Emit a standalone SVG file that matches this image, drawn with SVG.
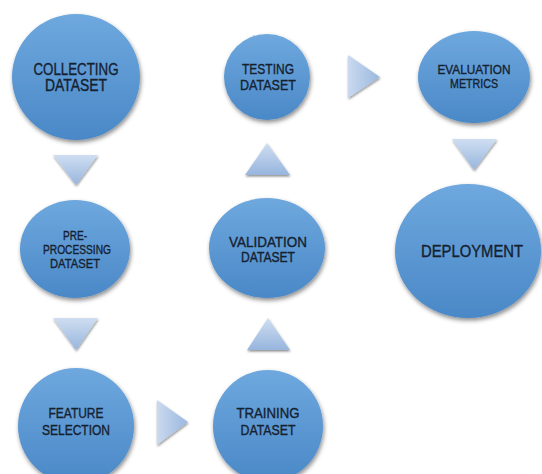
<svg xmlns="http://www.w3.org/2000/svg" width="542" height="474" viewBox="0 0 542 474">
<defs>
<linearGradient id="gNode" x1="0" y1="0" x2="0" y2="1">
<stop offset="0" stop-color="#6ea8de"/>
<stop offset="1" stop-color="#4a88c7"/>
</linearGradient>
<linearGradient id="gArrow" x1="0" y1="0" x2="0" y2="1">
<stop offset="0" stop-color="#cfdef1"/>
<stop offset="1" stop-color="#97b5de"/>
</linearGradient>
<linearGradient id="gArrowH" x1="0" y1="0" x2="1" y2="0">
<stop offset="0" stop-color="#cad9ef"/>
<stop offset="1" stop-color="#9ab8df"/>
</linearGradient>
<filter id="sh" x="-20%" y="-20%" width="140%" height="140%">
<feDropShadow dx="1" dy="2.5" stdDeviation="2" flood-color="#000" flood-opacity="0.45"/>
</filter>
<filter id="shA" x="-30%" y="-30%" width="160%" height="160%">
<feDropShadow dx="0.5" dy="1.5" stdDeviation="1.2" flood-color="#000" flood-opacity="0.45"/>
</filter>
</defs>
<style>
.node{fill:url(#gNode);filter:url(#sh);}
.arr{fill:url(#gArrow);filter:url(#shA);}
.arrh{fill:url(#gArrowH);filter:url(#shA);}
text{font-family:"Liberation Sans",Arial,sans-serif;fill:#15212f;stroke:#15212f;stroke-width:0.35;text-anchor:middle;}
</style>
<rect width="542" height="474" fill="#ffffff"/>
<g id="connectors">
<polygon class="arr" points="53,155 98,155 76,185"/>
<polygon class="arr" points="53,318 98,318 76,350"/>
<polygon class="arrh" points="157,400 157,445 188,422"/>
<polygon class="arr" points="247,350 290,350 268,318"/>
<polygon class="arr" points="245,175 290,175 267,143"/>
<polygon class="arrh" points="348,55 348,98 380,77"/>
<polygon class="arr" points="452,139 497,139 474,170"/>
</g>
<g id="collecting">
<ellipse class="node" cx="76" cy="77" rx="64" ry="63"/>
<text x="76" y="75" font-size="16" textLength="85" lengthAdjust="spacingAndGlyphs">COLLECTING</text>
<text x="76" y="91" font-size="16" textLength="62" lengthAdjust="spacingAndGlyphs">DATASET</text>
</g>
<g id="testing">
<ellipse class="node" cx="267" cy="77" rx="43" ry="43"/>
<text x="268" y="74" font-size="15" textLength="52" lengthAdjust="spacingAndGlyphs">TESTING</text>
<text x="268" y="90" font-size="15" textLength="56" lengthAdjust="spacingAndGlyphs">DATASET</text>
</g>
<g id="evaluation">
<ellipse class="node" cx="474" cy="77" rx="56" ry="46"/>
<text x="474" y="74" font-size="13.5" textLength="73" lengthAdjust="spacingAndGlyphs">EVALUATION</text>
<text x="474" y="88" font-size="13.5" textLength="48" lengthAdjust="spacingAndGlyphs">METRICS</text>
</g>
<g id="preprocessing">
<ellipse class="node" cx="75" cy="249" rx="55" ry="49"/>
<text x="75" y="240" font-size="13" textLength="24" lengthAdjust="spacingAndGlyphs">PRE-</text>
<text x="77" y="254" font-size="13" textLength="68" lengthAdjust="spacingAndGlyphs">PROCESSING</text>
<text x="75" y="268" font-size="13" textLength="50" lengthAdjust="spacingAndGlyphs">DATASET</text>
</g>
<g id="validation">
<ellipse class="node" cx="267" cy="248" rx="58" ry="50"/>
<text x="268" y="247" font-size="14" textLength="78" lengthAdjust="spacingAndGlyphs">VALIDATION</text>
<text x="268" y="262" font-size="14" textLength="54" lengthAdjust="spacingAndGlyphs">DATASET</text>
</g>
<g id="deployment">
<ellipse class="node" cx="468" cy="251" rx="73" ry="67"/>
<text x="472" y="257" font-size="16" textLength="102" lengthAdjust="spacingAndGlyphs">DEPLOYMENT</text>
</g>
<g id="feature">
<ellipse class="node" cx="76" cy="426" rx="58" ry="58"/>
<text x="76" y="418" font-size="14.5" textLength="55" lengthAdjust="spacingAndGlyphs">FEATURE</text>
<text x="76" y="435" font-size="14.5" textLength="68" lengthAdjust="spacingAndGlyphs">SELECTION</text>
</g>
<g id="training">
<ellipse class="node" cx="268" cy="426" rx="55" ry="56"/>
<text x="268" y="418" font-size="14.5" textLength="63" lengthAdjust="spacingAndGlyphs">TRAINING</text>
<text x="268" y="435" font-size="14.5" textLength="55" lengthAdjust="spacingAndGlyphs">DATASET</text>
</g>
</svg>
